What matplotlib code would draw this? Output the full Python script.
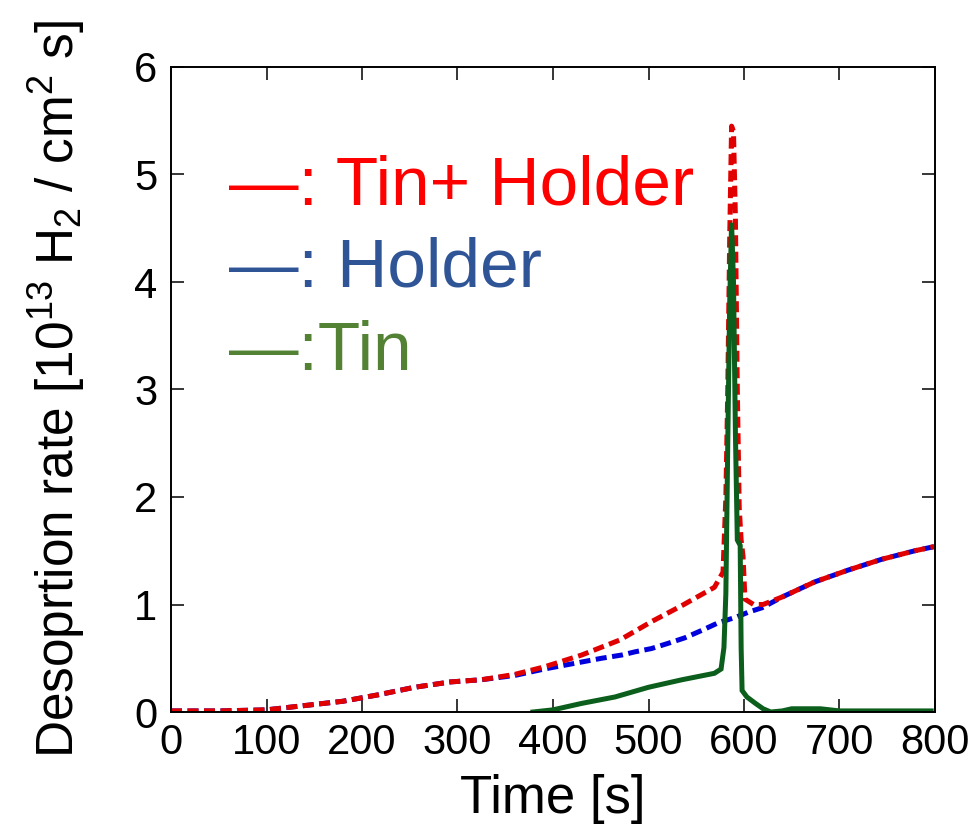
import numpy as np
import matplotlib.pyplot as plt

plt.rcParams['font.family'] = ['Liberation Sans', 'DejaVu Sans']
plt.rcParams['mathtext.fontset'] = 'custom'
plt.rcParams['mathtext.rm'] = 'Liberation Sans'
plt.rcParams['mathtext.it'] = 'Liberation Sans:italic'

# Tin + Holder (red, dashed)
t_total = [0, 50, 100, 130, 180, 217, 255, 293, 325, 360, 391, 430, 470, 503, 535,
           569, 578, 581, 583, 585, 587, 589, 591, 593, 595, 597, 599, 601, 610, 620,
           640, 674, 709, 744, 779, 800]
r_total = [0.01, 0.01, 0.02, 0.05, 0.10, 0.16, 0.23, 0.28, 0.30, 0.35, 0.42, 0.53, 0.67, 0.84, 0.99,
           1.16, 1.30, 2.0, 3.0, 4.4, 5.45, 5.4, 4.6, 3.0, 1.9, 1.6, 1.45, 1.05, 1.0, 1.0,
           1.07, 1.21, 1.32, 1.42, 1.50, 1.54]

# Holder (blue, dashed)
t_holder = [0, 50, 100, 130, 180, 217, 255, 293, 325, 360, 391, 433, 451, 472, 486, 503,
            521, 538, 556, 573, 591, 605, 619, 640, 674, 709, 744, 779, 800]
r_holder = [0.01, 0.01, 0.02, 0.05, 0.10, 0.16, 0.23, 0.28, 0.30, 0.34, 0.40, 0.47, 0.50, 0.53, 0.56, 0.59,
            0.64, 0.69, 0.76, 0.83, 0.88, 0.93, 0.97, 1.07, 1.21, 1.32, 1.42, 1.50, 1.54]

# Tin (green, solid)
t_tin = [379, 400, 430, 465, 500, 535, 569, 576, 579, 581, 583, 585, 587, 589, 591, 593,
         596, 597, 598, 603, 612, 620, 628, 640, 650, 680, 700, 796]
r_tin = [0.0, 0.02, 0.08, 0.14, 0.23, 0.30, 0.36, 0.40, 0.60, 1.10, 2.5, 3.8, 4.55, 4.0, 2.6, 1.6,
         1.55, 0.60, 0.20, 0.14, 0.08, 0.03, 0.0, 0.01, 0.03, 0.03, 0.01, 0.01]

fig = plt.figure(figsize=(9.74, 8.30), dpi=100)
ax = fig.add_axes([171/974, 118/830, 764/974, 645/830])

dash = (0, (2.2, 1.1))
ax.plot(t_holder, r_holder, color='#0000DD', linestyle=dash, linewidth=3.6, dash_capstyle='butt')
ax.plot(t_total, r_total, color='#E00000', linestyle=dash, linewidth=3.6, dash_capstyle='butt')
ax.plot(t_tin, r_tin, color='#0B5E1B', linestyle='-', linewidth=3.6, solid_joinstyle='miter')

ax.set_xlim(0, 800)
ax.set_ylim(0, 6)
ax.set_xticks(np.arange(0, 801, 100))
ax.set_yticks(np.arange(0, 7, 1))
ax.tick_params(axis='both', direction='in', length=9.5, width=1.1, labelsize=30,
               top=True, right=True)
ax.tick_params(axis='x', pad=8)
ax.tick_params(axis='y', pad=10)
for s in ax.spines.values():
    s.set_linewidth(1.4)

ax.set_xlabel('Time [s]', fontsize=38, labelpad=8)
ax.set_ylabel(r'Desoprtion rate [10$^{13}$ H$_2$ / cm$^2$ s]', fontsize=37, labelpad=34)

# legend as coloured text
ax.text(0.076, 0.787, '—: Tin+ Holder', color='#FF0000', fontsize=50,
        transform=ax.transAxes, ha='left', va='baseline')
ax.text(0.076, 0.659, '—: Holder', color='#2F5597', fontsize=50,
        transform=ax.transAxes, ha='left', va='baseline')
ax.text(0.076, 0.531, '—:Tin', color='#548235', fontsize=50,
        transform=ax.transAxes, ha='left', va='baseline')

plt.savefig('out.png', dpi=100)
